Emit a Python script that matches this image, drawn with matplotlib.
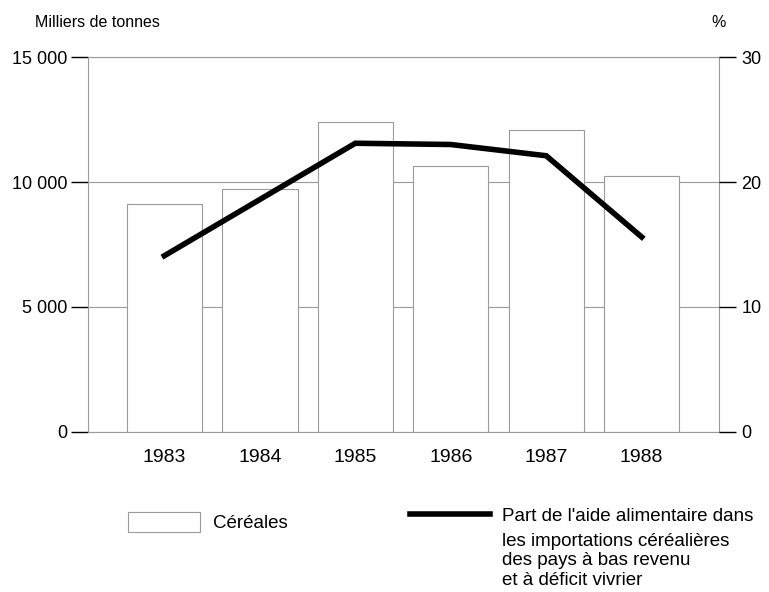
import matplotlib.pyplot as plt
from matplotlib.patches import Patch
from matplotlib.lines import Line2D

plt.rcParams['font.family'] = ['Liberation Sans', 'DejaVu Sans']

annees = ['1983', '1984', '1985', '1986', '1987', '1988']
cereales = [9130, 9730, 12390, 10660, 12070, 10260]   # milliers de tonnes
part_aide = [14.1, 18.6, 23.1, 23.0, 22.1, 15.6]      # %

fig = plt.figure(figsize=(7.69, 5.92), dpi=100)
ax = fig.add_axes([0.1144, 0.2703, 0.8206, 0.6334])

x = range(len(annees))
ax.set_axisbelow(True)
ax.bar(x, cereales, width=0.79, color='white', edgecolor='#9a9a9a', linewidth=0.8)
ax.set_xlim(-0.80, 5.81)
ax.set_ylim(0, 15000)
ax.set_yticks([0, 5000, 10000, 15000])
ax.set_yticklabels(['0', '5 000', '10 000', '15 000'])
ax.yaxis.grid(True, color='#9a9a9a', linewidth=0.8)
ax.set_xticks(list(x))
ax.set_xticklabels(annees)
ax.tick_params(axis='x', length=0, pad=12, labelsize=14)
ax.tick_params(axis='y', length=12, width=1, labelsize=13, pad=3)
for s in ax.spines.values():
    s.set_color('#9a9a9a')
    s.set_linewidth(0.8)

ax2 = ax.twinx()
ax2.plot(x, part_aide, color='black', linewidth=4, solid_joinstyle='miter')
ax2.set_ylim(0, 30)
ax2.set_yticks([0, 10, 20, 30])
ax2.tick_params(axis='y', length=12, width=1, labelsize=13, pad=4)
for s in ax2.spines.values():
    s.set_visible(False)

fig.text(0.046, 0.962, 'Milliers de tonnes', fontsize=11.5, va='center')
fig.text(0.934, 0.962, '%', fontsize=11.5, va='center', ha='center')

# légende
h1 = Patch(facecolor='white', edgecolor='#9a9a9a', linewidth=0.8)
fig.legend([h1], ['Céréales'], loc='upper left', bbox_to_anchor=(0.166, 0.1351),
           frameon=False, fontsize=13.5, handlelength=3.84, handleheight=1.23,
           handletextpad=0.7, borderaxespad=0, borderpad=0)

h2 = Line2D([], [], color='black', linewidth=4)
fig.legend([h2], ["Part de l'aide alimentaire dans"], loc='upper left',
           bbox_to_anchor=(0.533, 0.142), frameon=False, fontsize=13.5,
           handlelength=4.27, handletextpad=0.64, borderaxespad=0, borderpad=0)
fig.text(0.653, 0.100, "les importations céréalières\ndes pays à bas revenu\net à déficit vivrier",
         fontsize=13.5, va='top', linespacing=1.2)

fig.savefig('out.png', dpi=100)
